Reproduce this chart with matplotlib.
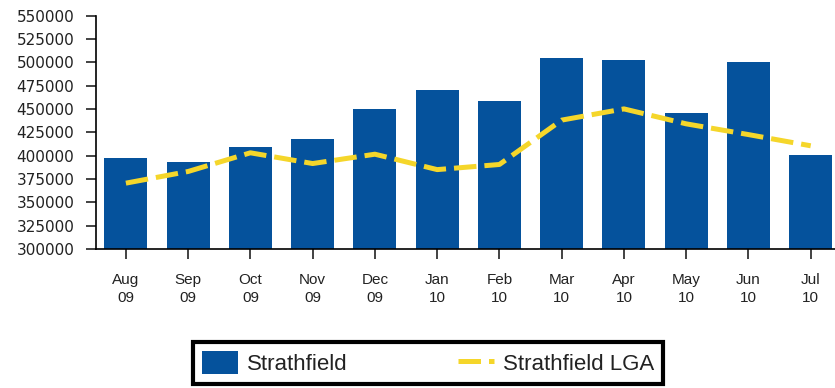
import numpy as np
import matplotlib
matplotlib.use('Agg')
import matplotlib.pyplot as plt

months = ['Aug\n09', 'Sep\n09', 'Oct\n09', 'Nov\n09', 'Dec\n09', 'Jan\n10',
          'Feb\n10', 'Mar\n10', 'Apr\n10', 'May\n10', 'Jun\n10', 'Jul\n10']
strathfield = [397500, 393000, 409500, 417500, 450000, 470000,
               458000, 504500, 502500, 445500, 500500, 401000]
strathfield_lga = [370500, 383000, 403000, 391500, 401500, 385000,
                   390500, 438000, 450000, 434000, 422500, 410500]
yticks = np.arange(300000, 550001, 25000)

bar_color = '#05529c'
line_color = '#f5d62a'

fig = plt.figure(figsize=(8.35, 3.88), dpi=100)
ax = fig.add_axes([96 / 835, 1 - 249 / 388, 1 - 96 / 835, (249 - 15.5) / 388])

x = np.arange(len(months))
bars = ax.bar(x, np.array(strathfield) - 300000, bottom=300000, width=0.69,
              color=bar_color, label='Strathfield', zorder=2)
line, = ax.plot(x, strathfield_lga, color=line_color, lw=3.6,
                dashes=(4.5, 1.6), label='Strathfield LGA', zorder=3)

ax.set_xlim(-0.48, 11.39)
ax.set_ylim(300000, 550000)
ax.set_yticks(yticks)
ax.set_yticklabels([str(v) for v in yticks], fontfamily='DejaVu Sans',
                   fontsize=11)
ax.set_xticks(x)
ax.set_xticklabels(months, fontfamily='Liberation Sans', fontsize=11,
                   linespacing=1.4)

for side in ['top', 'right']:
    ax.spines[side].set_visible(False)
for side in ['left', 'bottom']:
    ax.spines[side].set_linewidth(1.2)
    ax.spines[side].set_color('black')
ax.tick_params(axis='y', length=7.2, width=1.2, pad=8.5, colors='#222222')
ax.tick_params(axis='x', length=7.2, width=1.2, pad=10, colors='#222222')

leg = fig.legend(handles=[bars, line], loc='center',
                 bbox_to_anchor=(428 / 835, 1 - 363 / 388),
                 ncol=2, frameon=True, fancybox=False, shadow=False,
                 framealpha=1,
                 prop={'family': 'Liberation Sans', 'size': 16},
                 handlelength=1.6, handleheight=1.2, handletextpad=0.4,
                 columnspacing=5.0, borderpad=0.4)
leg.get_frame().set_edgecolor('black')
leg.get_frame().set_linewidth(3)
for t in leg.get_texts():
    t.set_color('#222222')

fig.savefig('out.png', dpi=100)
